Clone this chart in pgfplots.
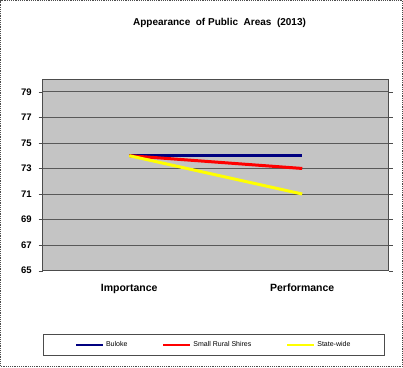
\documentclass[border=0pt]{standalone}
\usepackage{fontspec}
\setmainfont{Liberation Sans}
\usepackage{pgfplots}
\pgfplotsset{compat=1.18}
\definecolor{navyb}{RGB}{0,0,128}
\definecolor{bgg}{RGB}{196,196,196}
\definecolor{yel}{RGB}{255,255,0}
\begin{document}
\begin{tikzpicture}[x=1pt,y=1pt]
\path[use as bounding box] (0,0) rectangle (403,367);
\draw[densely dotted, line width=1.2pt, black!70] (0.6,0.6) rectangle (402.4,366.4);
\node[font=\bfseries\fontsize{10}{12}\selectfont] at (219.5,344) {Appearance\ \ of\ Public\ \ Areas\ \ (2013)};
\begin{axis}[at={(42.7pt,96.3pt)}, anchor=south west, scale only axis,
  width=346pt, height=191.7pt,
  xmin=-0.5, xmax=1.5, ymin=65, ymax=80,
  axis background/.style={fill=bgg},
  axis line style={gray!60!black, line width=0.6pt},
  xtick={0,1}, xticklabels={Importance,Performance},
  extra x ticks={0.5}, extra x tick labels={},
  extra x tick style={major tick length=4pt, tick style={black!70}},
  x tick style={draw=none},
  ytick={65,67,...,79},
  ymajorgrids, grid style={black!65, line width=0.7pt},
  tick align=outside, major tick length=4pt,
  y tick style={black!70},
  /pgf/number format/assume math mode=true,
  yticklabel style={font=\bfseries\fontsize{9.5}{10}\selectfont, xshift=-3.5pt},
  xticklabel style={font=\bfseries\fontsize{10.5}{12}\selectfont, yshift=-6pt},
  legend style={at={(0,-0.33)}, anchor=north west, draw=black!70, line width=0.6pt,
    font=\fontsize{7}{8}\selectfont, inner xsep=32pt, inner ysep=5pt,
    /tikz/every even column/.append style={column sep=33pt}},
  legend columns=3,
  legend image code/.code={\draw[#1, line width=2pt] (0pt,0pt) -- (27pt,0pt);},
]
\addplot[navyb, line width=3pt] coordinates {(0,74) (1,74)};
\addlegendentry{Buloke}
\addplot[red, line width=3pt] coordinates {(0,74) (1,73)};
\addlegendentry{Small Rural Shires}
\addplot[yel, line width=3pt] coordinates {(0,74) (1,71)};
\addlegendentry{State-wide}
\end{axis}
\end{tikzpicture}
\end{document}
